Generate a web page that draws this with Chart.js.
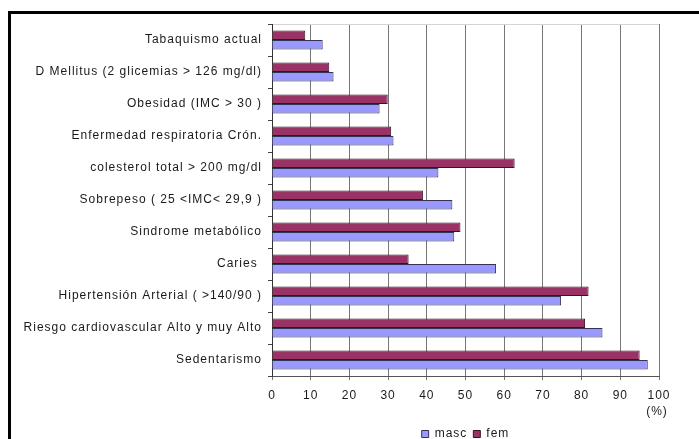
<!DOCTYPE html>
<html>
<head>
<meta charset="utf-8">
<script src="https://cdn.jsdelivr.net/npm/chart.js@4/dist/chart.umd.min.js"></script>
<style>
  html, body { margin: 0; padding: 0; background: #fff; overflow: hidden; }
  #wrap { position: relative; width: 699px; height: 439px; }
  #frame {
    position: absolute; left: 8px; top: 11px; width: 720px; height: 460px;
    border-left: 3px solid #000; border-top: 3px solid #000; pointer-events: none;
  }
  canvas { position: absolute; left: 0; top: 0; }
</style>
</head>
<body>
<div id="wrap">
  <canvas id="c" width="699" height="439"></canvas>
  <div id="frame"></div>
</div>
<script>
// Prevalencia de factores de riesgo por sexo (%)
const categories = [
  'Tabaquismo actual',
  'D Mellitus (2 glicemias > 126 mg/dl)',
  'Obesidad (IMC > 30 )',
  'Enfermedad respiratoria Crón.',
  'colesterol total > 200 mg/dl',
  'Sobrepeso ( 25 <IMC< 29,9 )',
  'Sindrome metabólico',
  'Caries ',
  'Hipertensión Arterial ( >140/90 )',
  'Riesgo cardiovascular Alto y muy Alto',
  'Sedentarismo'
];
const fem  = [8.6, 14.8, 29.9, 30.8, 62.7, 39.0, 48.7, 35.3, 81.8, 80.9, 95.0];
const masc = [13.1, 15.9, 27.8, 31.4, 43.0, 46.6, 47.1, 57.9, 74.7, 85.4, 97.1];
const xTicks = [0, 10, 20, 30, 40, 50, 60, 70, 80, 90, 100];

const FONT = { family: "'Liberation Sans', Arial, sans-serif", size: 12 };
const TEXT = '#1a1a1a';

// Slightly tracked text, as in the printed figure
const tracking = {
  id: 'tracking',
  beforeLayout(chart) { chart.ctx.letterSpacing = '1px'; },
  beforeDraw(chart) { chart.ctx.letterSpacing = '1px'; }
};

// Unit label under the last x tick
const unitLabel = {
  id: 'unitLabel',
  afterDraw(chart) {
    const x = chart.scales.x;
    const ctx = chart.ctx;
    ctx.save();
    ctx.letterSpacing = '1px';
    ctx.font = `12px ${FONT.family}`;
    ctx.fillStyle = TEXT;
    ctx.textAlign = 'center';
    ctx.textBaseline = 'middle';
    ctx.fillText('(%)', x.getPixelForValue(xTicks[xTicks.length - 1]) - 2, 412);
    ctx.restore();
  }
};

new Chart(document.getElementById('c'), {
  type: 'bar',
  data: {
    labels: categories,
    datasets: [
      { label: 'fem', data: fem, backgroundColor: '#993366', borderColor: '#3a1028', borderWidth: 1,
        categoryPercentage: 0.6, barPercentage: 1.0 },
      { label: 'masc', data: masc, backgroundColor: '#9999ff', borderColor: '#333355', borderWidth: 1,
        categoryPercentage: 0.6, barPercentage: 1.0 }
    ]
  },
  options: {
    indexAxis: 'y',
    responsive: false,
    animation: false,
    layout: { padding: { left: 12, top: 24, right: 40, bottom: -11 } },
    scales: {
      x: {
        min: 0, max: 100,
        afterBuildTicks(s) { s.ticks = xTicks.map(v => ({ value: v })); },
        afterFit(s) { s.height = 46; },
        grid: { color: '#777', lineWidth: 1, tickLength: 4, drawTicks: true },
        border: { color: '#555', width: 1 },
        ticks: { color: TEXT, font: FONT, padding: 8, maxRotation: 0 }
      },
      y: {
        afterFit(s) { s.width = 260; },
        grid: {
          offset: true, drawOnChartArea: true, tickLength: 4,
          color: (c) => (c.index === 0 ? '#d4d4d4' : 'rgba(0,0,0,0)'),
          tickColor: '#444'
        },
        border: { color: '#333', width: 1 },
        ticks: { color: TEXT, font: FONT, padding: 6, autoSkip: false }
      }
    },
    plugins: {
      legend: {
        position: 'bottom',
        fullSize: false,
        reverse: true,
        labels: { color: TEXT, font: FONT, boxWidth: 7, boxHeight: 7, padding: 6 }
      },
      tooltip: { enabled: false }
    }
  },
  plugins: [tracking, unitLabel]
});
</script>
</body>
</html>
